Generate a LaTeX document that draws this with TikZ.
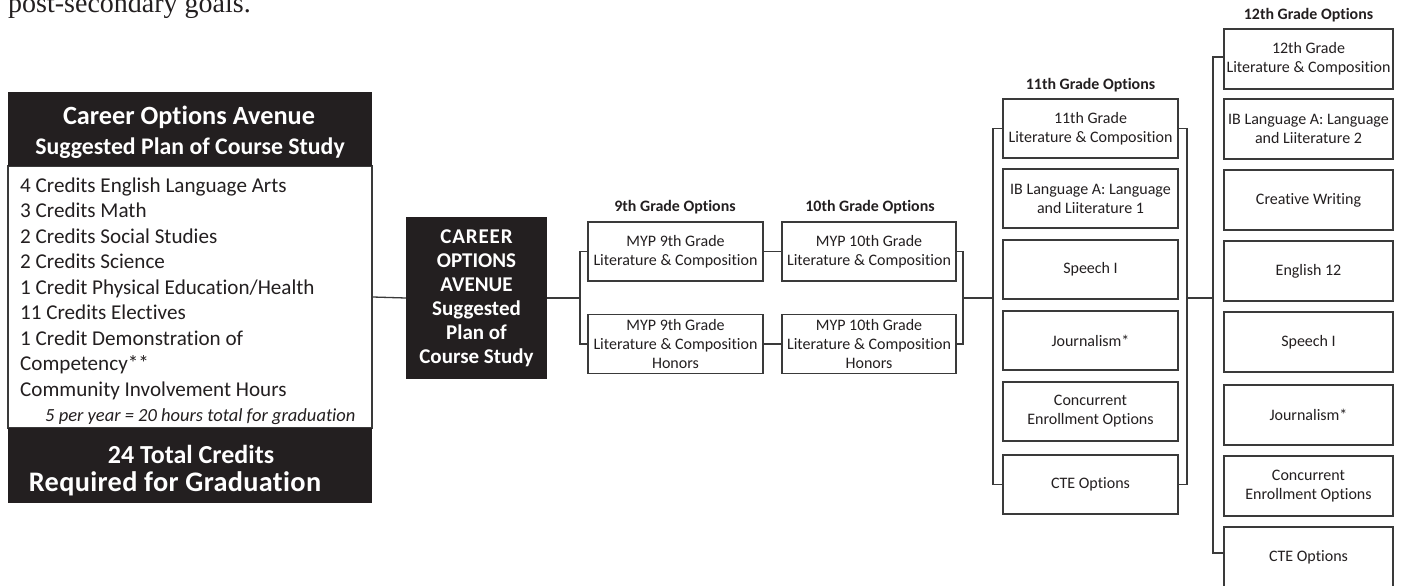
\documentclass[tikz,border=0pt]{standalone}
\usepackage{fontspec}
\setmainfont{Carlito}[Ligatures=NoCommon]
\newfontfamily\serifgoal{Liberation Serif}
\definecolor{darkc}{RGB}{35,31,32}
\definecolor{linec}{RGB}{58,58,58}
\begin{document}
\begin{tikzpicture}[x=1pt,y=-1pt,
  conn/.style={draw=linec, line width=1.3pt},
  optbox/.style={draw=linec, line width=1.3pt, fill=white, inner sep=0pt, align=center, text=darkc, font=\fontsize{16}{19}\selectfont},
  box9/.style={optbox, minimum width=175pt, minimum height=59pt},
  box11/.style={optbox, minimum width=175pt, minimum height=59pt},
  box12/.style={optbox, minimum width=169pt, minimum height=60pt},
  lab/.style={inner sep=0pt, text=darkc, font=\bfseries\fontsize{15.9}{18}\selectfont},
  blackbox/.style={fill=darkc, inner sep=0pt, text=white, align=center},
  bodytxt/.style={inner sep=0pt, anchor=base west, text=darkc, font=\fontsize{21.1}{24}\selectfont},
  whitetxt/.style={inner sep=0pt, text=white, font=\bfseries}
]
\useasboundingbox (0,0) rectangle (1401,586);

% top text (cropped, as in the reference)
\node[inner sep=0pt, anchor=base west, text=darkc, font=\serifgoal\fontsize{28}{30}\selectfont] (goal) at (8,13) {post-secondary goals.};

% left summary box
\node[draw=linec, line width=1.3pt, fill=white, minimum width=364pt, minimum height=262pt, inner sep=0pt] (lbb) at (190,297) {};
\node[blackbox, minimum width=364pt, minimum height=74pt] (lbh) at (190,129) {};
\node[blackbox, minimum width=364pt, minimum height=75pt] (lbf) at (190,465.5) {};
\node[whitetxt, font=\bfseries\fontsize{26.3}{28}\selectfont] (h1) at (189,117) {Career Options Avenue};
\node[whitetxt, font=\bfseries\fontsize{23.8}{26}\selectfont] (h2) at (190,148) {Suggested Plan of Course Study};
\node[whitetxt, font=\bfseries\fontsize{26}{28}\selectfont] (f1) at (191,454) {24 Total Credits};
\node[whitetxt, font=\bfseries\fontsize{28.3}{30}\selectfont\addfontfeature{LetterSpace=1.2}] (f2) at (175,484) {Required for Graduation};

\foreach \t [count=\i] in {4 Credits English Language Arts, 3 Credits Math, 2 Credits Social Studies, 2 Credits Science, 1 Credit Physical Education/Health, 11 Credits Electives, 1 Credit Demonstration of, Competency**, Community Involvement Hours}
  \node[bodytxt] (t\i) at (20,{192+25.5*(\i-1)}) {\t};
\node[bodytxt, font=\itshape\fontsize{18.5}{22}\selectfont] (t10) at (45,421) {5 per year = 20 hours total for graduation};

% central box
\node[blackbox, minimum width=141pt, minimum height=162pt, font=\bfseries\fontsize{21}{24}\selectfont] (cb) at (476.5,298)
  {{\addfontfeature{LetterSpace=4}CAREER}\\OPTIONS\\AVENUE\\Suggested\\Plan of\\Course Study};
\draw[conn] (lbb.east) -- (cb.west);

% 9th and 10th grade
\node[lab] (l9) at (675,207) {9th Grade Options};
\node[lab] (l10) at (870,207) {10th Grade Options};
\node[box9] (n9a) at (675.5,251.5) {MYP 9th Grade\\Literature \& Composition};
\node[box9] (n9b) at (675.5,344) {MYP 9th Grade\\Literature \& Composition\\Honors};
\node[box9, minimum width=174pt] (n10a) at (869,251.5) {MYP 10th Grade\\Literature \& Composition};
\node[box9, minimum width=174pt] (n10b) at (869,344) {MYP 10th Grade\\Literature \& Composition\\Honors};

\coordinate (j9) at (580,298);
\draw[conn] (cb.east) -- (j9);
\draw[conn] (n9a.west) -- (n9a.west -| j9) -- (n9b.west -| j9) -- (n9b.west);
\draw[conn] (n9a.east) -- (n10a.west);
\draw[conn] (n9b.east) -- (n10b.west);
\coordinate (j10) at (963,298);
\draw[conn] (n10a.east) -- (n10a.east -| j10) -- (n10b.east -| j10) -- (n10b.east);

% 11th grade
\node[lab] (l11) at (1090.5,85) {11th Grade Options};
\node[box11] (n11a) at (1090.5,128.5) {11th Grade\\Literature \& Composition};
\node[box11] (n11b) at (1090.5,198.5) {IB Language A: Language\\and Liiterature 1};
\node[box11] (n11c) at (1090.5,269.5) {Speech I};
\node[box11] (n11d) at (1090.5,340.5) {Journalism*};
\node[box11] (n11e) at (1090.5,411.5) {Concurrent\\Enrollment Options};
\node[box11] (n11f) at (1090.5,484.5) {CTE Options};
\coordinate (j11) at (993,298);
\draw[conn] (j10) -- (j11);
\draw[conn] (n11a.west) -- (n11a.west -| j11) -- (n11f.west -| j11) -- (n11f.west);
\coordinate (k11) at (1187,298);
\draw[conn] (n11a.east) -- (n11a.east -| k11) -- (n11f.east -| k11) -- (n11f.east);

% 12th grade
\node[lab] (l12) at (1308.5,15) {12th Grade Options};
\node[box12] (n12a) at (1308.5,59) {12th Grade\\Literature \& Composition};
\node[box12] (n12b) at (1308.5,129) {IB Language A: Language\\and Liiterature 2};
\node[box12] (n12c) at (1308.5,200) {Creative Writing};
\node[box12] (n12d) at (1308.5,271) {English 12};
\node[box12] (n12e) at (1308.5,342) {Speech I};
\node[box12] (n12f) at (1308.5,415) {Journalism*};
\node[box12] (n12g) at (1308.5,486) {Concurrent\\Enrollment Options};
\node[box12] (n12h) at (1308.5,557) {CTE Options};
\coordinate (j12) at (1213,298);
\draw[conn] (k11) -- (j12);
\draw[conn] ([yshift=2pt]n12a.west) -- ([yshift=2pt]n12a.west -| j12) -- ([yshift=4pt]n12h.west -| j12) -- ([yshift=4pt]n12h.west);
\end{tikzpicture}
\end{document}
